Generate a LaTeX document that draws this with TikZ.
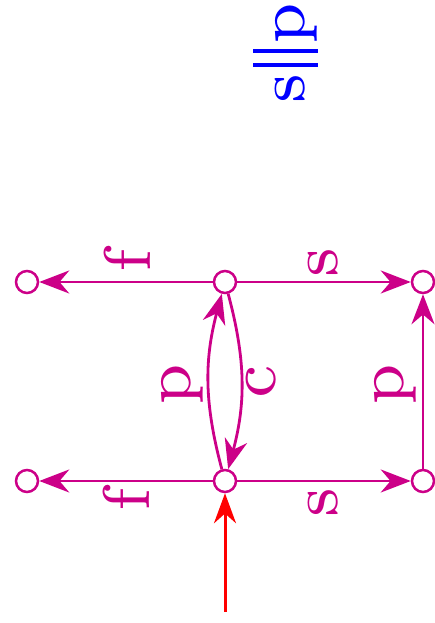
\documentclass[tikz,border=0pt]{standalone}
\usepackage{fontspec}
\newfontfamily\lblfont{lmroman7-regular.otf}
\usepackage{tikz}
\usetikzlibrary{arrows.meta}
\definecolor{arcmag}{RGB}{204,0,136}
\begin{document}
\begin{tikzpicture}[x=1pt, y=1pt,
  vert/.style={circle, draw=arcmag, fill=white, line width=2.5pt, minimum size=22pt, inner sep=0pt},
  arr/.style={-{Stealth[length=30pt, width=23pt]}, line width=2.8pt, color=arcmag},
  inarr/.style={-{Stealth[length=30pt, width=22pt]}, line width=3pt, color=red},
  lbl/.style={rotate=90, inner sep=0pt, font=\lblfont\fontsize{66}{80}\selectfont, text=arcmag},
]
  \useasboundingbox (0,0) rectangle (435,623);

  % States
  \node[vert] (lt) at (27, 341) {};
  \node[vert] (mt) at (225, 341) {};
  \node[vert] (rt) at (423, 341) {};
  \node[vert] (lb) at (27, 142) {};
  \node[vert] (mb) at (225, 142) {};
  \node[vert] (rb) at (423, 142) {};
  \coordinate (src) at (225, 11);

  % Transitions
  \draw[arr] (mt) -- (lt);
  \draw[arr] (mb) -- (lb);
  \draw[arr] (mt) -- (rt);
  \draw[arr] (mb) -- (rb);
  \draw[arr] (rb) -- (rt);
  \draw[arr] (mb) to[bend left=15] (mt);
  \draw[arr] (mt) to[bend left=15] (mb);
  \draw[inarr] (src) -- (mb);

  % Labels
  \node[lbl] (ftop) at (127, 362) {f};
  \node[lbl] (fbot) at (126, 123) {f};
  \node[lbl] (stop) at (323, 360) {s};
  \node[lbl] (sbot) at (323, 120) {s};
  \node[lbl] (pright) at (395, 238) {p};
  \node[lbl] (pmid) at (182, 238) {p};
  \node[lbl] (cmid) at (261, 241) {c};

  % Title
  \node[lbl, text=blue] (title) at (285, 570) {s\kern6pt\rule[-13pt]{4.5pt}{65pt}\kern9.5pt\rule[-13pt]{4.5pt}{65pt}\kern4pt p};
\end{tikzpicture}
\end{document}
